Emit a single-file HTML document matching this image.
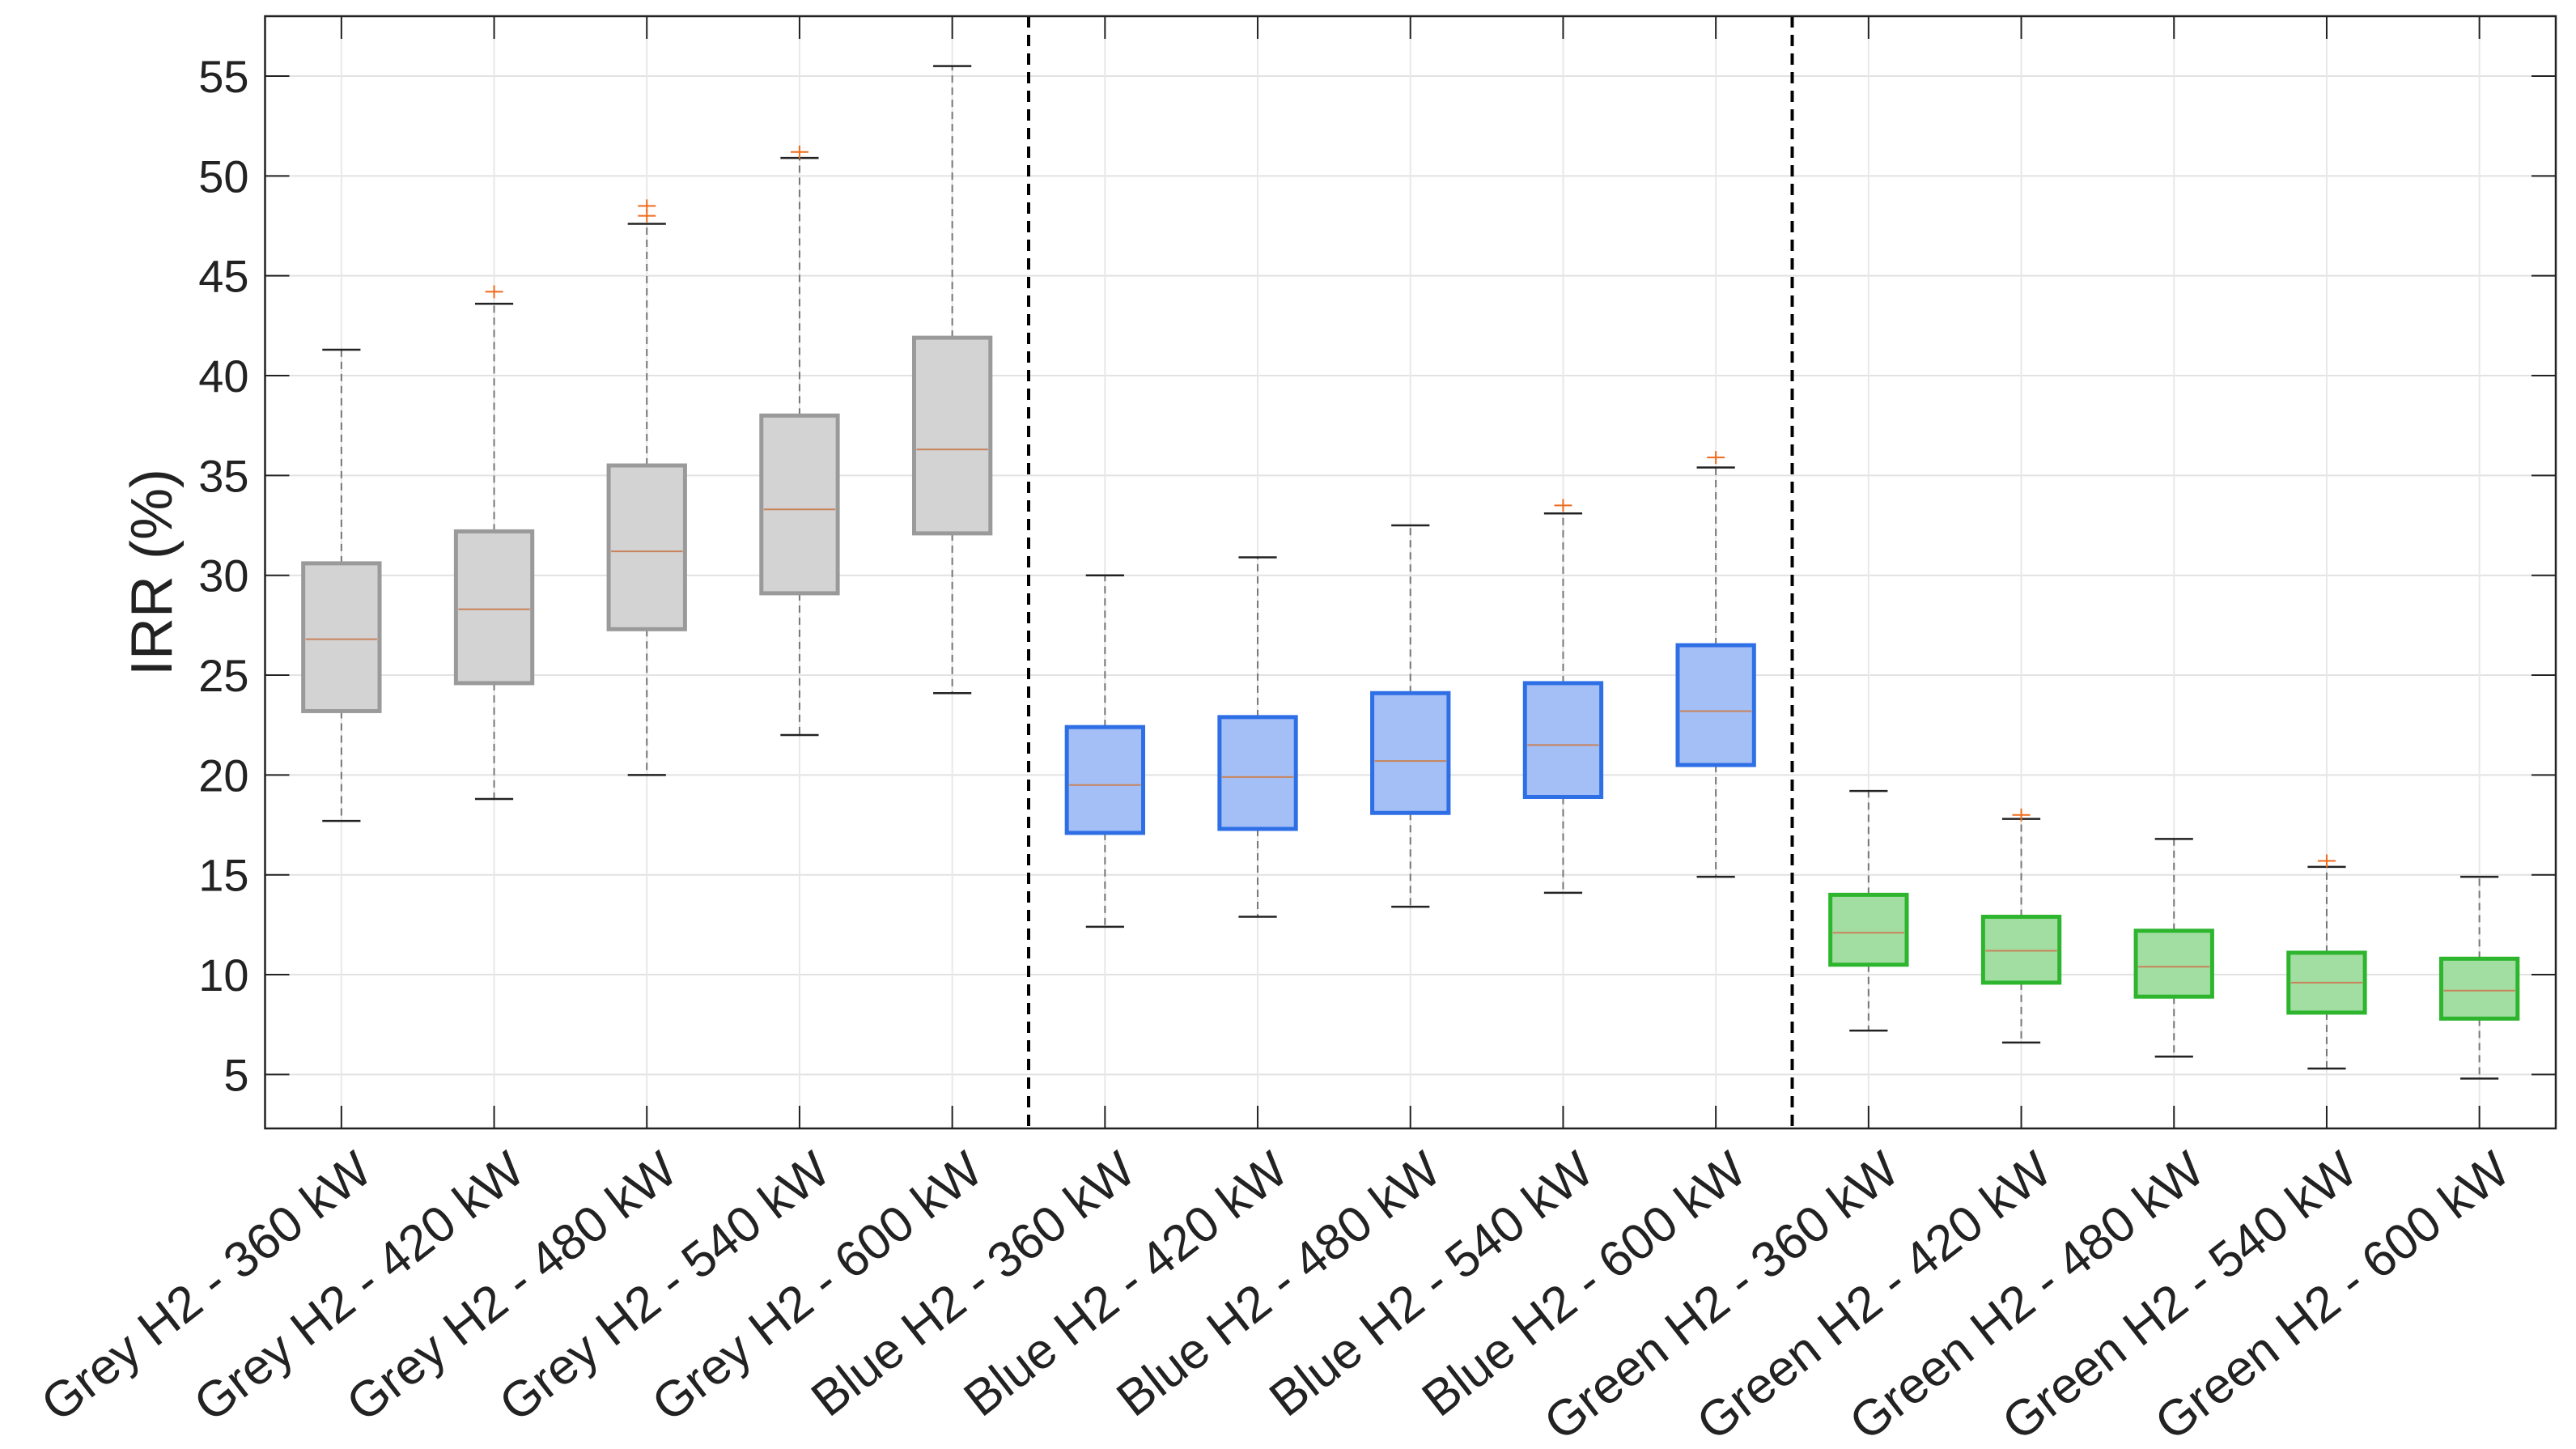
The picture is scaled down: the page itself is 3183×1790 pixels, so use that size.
<!DOCTYPE html>
<html><head><meta charset="utf-8"><style>
html,body{margin:0;padding:0;background:#fff;}
svg{display:block;font-family:"Liberation Sans",Arial,sans-serif;}
</style></head><body>
<svg id="chart" width="3183" height="1790" viewBox="0 0 3183 1790" xmlns="http://www.w3.org/2000/svg">
<rect x="0" y="0" width="3183" height="1790" fill="#fff"/>
<g id="grid"></g>
<g id="boxes"></g>
<g id="axes"></g>
<text transform="translate(212,707) rotate(-90)" text-anchor="middle" font-size="72" fill="#222">IRR (%)</text>
</svg>
<script>
const categories = ["Grey H2 - 360 kW","Grey H2 - 420 kW","Grey H2 - 480 kW","Grey H2 - 540 kW","Grey H2 - 600 kW","Blue H2 - 360 kW","Blue H2 - 420 kW","Blue H2 - 480 kW","Blue H2 - 540 kW","Blue H2 - 600 kW","Green H2 - 360 kW","Green H2 - 420 kW","Green H2 - 480 kW","Green H2 - 540 kW","Green H2 - 600 kW"];
const groups = ["grey","grey","grey","grey","grey","blue","blue","blue","blue","blue","green","green","green","green","green"];
const whiskerLow = [17.7,18.8,20.0,22.0,24.1,12.4,12.9,13.4,14.1,14.9,7.2,6.6,5.9,5.3,4.8];
const q1 = [23.2,24.6,27.3,29.1,32.1,17.1,17.3,18.1,18.9,20.5,10.5,9.6,8.9,8.1,7.8];
const median = [26.8,28.3,31.2,33.3,36.3,19.5,19.9,20.7,21.5,23.2,12.1,11.2,10.4,9.6,9.2];
const q3 = [30.6,32.2,35.5,38.0,41.9,22.4,22.9,24.1,24.6,26.5,14.0,12.9,12.2,11.1,10.8];
const whiskerHigh = [41.3,43.6,47.6,50.9,55.5,30.0,30.9,32.5,33.1,35.4,19.2,17.8,16.8,15.4,14.9];
const outliers = [[],[44.2],[48.0,48.5],[51.2],[],[],[],[],[33.5],[35.9],[],[18.0],[],[15.7],[]];
const yTicks = [5,10,15,20,25,30,35,40,45,50,55];
const separators = [5.5,10.5];

const NS="http://www.w3.org/2000/svg";
const L=327.5,R=3158,T=20,B=1394,YMIN=2.3,YMAX=58;
const xs=v=>L+(v-0.5)/15*(R-L);
const ys=v=>B-(v-YMIN)/(YMAX-YMIN)*(B-T);
const colors={grey:{f:"#d3d3d3",s:"#9a9a9a"},blue:{f:"#a3bff5",s:"#2f6fe6"},green:{f:"#a2dea2",s:"#2eb52e"}};
function mk(tag,attrs,parent){const e=document.createElementNS(NS,tag);for(const k in attrs)e.setAttribute(k,attrs[k]);parent.appendChild(e);return e;}
const grid=document.getElementById('grid'),boxes=document.getElementById('boxes'),axes=document.getElementById('axes');
yTicks.forEach(t=>{
  const g=mk('line',{x1:L,x2:R,y1:ys(t),y2:ys(t),stroke:"#e2e2e2","stroke-width":2},grid);
  
  
  const tl=mk('line',{x1:L,x2:L+30,y1:ys(t),y2:ys(t),stroke:"#222","stroke-width":2},axes);
  
  
  const tr=mk('line',{x1:R-30,x2:R,y1:ys(t),y2:ys(t),stroke:"#222","stroke-width":2},axes);
  
  
  const lab=mk('text',{x:L-20,y:ys(t)+20,"text-anchor":"end","font-size":56,fill:"#222"},axes);
  lab.textContent=t;
  
  
});
categories.forEach((c,i)=>{
  const x=xs(i+1);
  const g=mk('line',{x1:x,x2:x,y1:T,y2:B,stroke:"#e8e8e8","stroke-width":2},grid);
  
  
  const tb=mk('line',{x1:x,x2:x,y1:B-28,y2:B,stroke:"#222","stroke-width":2},axes);
  
  
  const tt=mk('line',{x1:x,x2:x,y1:T,y2:T+28,stroke:"#222","stroke-width":2},axes);
  
  
  const lab=mk('text',{transform:`translate(${x+14},${1418}) rotate(-38)`,"text-anchor":"end","font-size":62,fill:"#222",dy:"0.72em"},axes);
  lab.textContent=c;
  
  
  const col=colors[groups[i]];
  const g2=mk('g',{},boxes);
  
  
  const hw=0.25/15*(R-L), cw=0.125/15*(R-L);
  mk('line',{x1:x,x2:x,y1:ys(q3[i]),y2:ys(whiskerHigh[i]),stroke:"#777","stroke-width":2,"stroke-dasharray":"9,6"},g2);
  mk('line',{x1:x,x2:x,y1:ys(q1[i]),y2:ys(whiskerLow[i]),stroke:"#777","stroke-width":2,"stroke-dasharray":"9,6"},g2);
  mk('line',{x1:x-cw,x2:x+cw,y1:ys(whiskerHigh[i]),y2:ys(whiskerHigh[i]),stroke:"#222","stroke-width":2.5},g2);
  mk('line',{x1:x-cw,x2:x+cw,y1:ys(whiskerLow[i]),y2:ys(whiskerLow[i]),stroke:"#222","stroke-width":2.5},g2);
  mk('rect',{x:x-hw,y:ys(q3[i]),width:2*hw,height:ys(q1[i])-ys(q3[i]),fill:col.f,stroke:col.s,"stroke-width":5},g2);
  mk('line',{x1:x-hw+3,x2:x+hw-3,y1:ys(median[i]),y2:ys(median[i]),stroke:"#c8835a","stroke-width":2},g2);
  outliers[i].forEach(o=>{
    const p=mk('path',{d:`M${x-11},${ys(o)}h22M${x},${ys(o)-8}v16`,stroke:"#f06a1a","stroke-width":2,fill:"none"},g2);
    
    
  });
});
separators.forEach(s=>{
  const l=mk('line',{x1:xs(s),x2:xs(s),y1:T,y2:B,stroke:"#000","stroke-width":4,"stroke-dasharray":"14,9"},axes);
  
  
});
const fr=mk('rect',{x:L,y:T,width:R-L,height:B-T,fill:"none",stroke:"#222","stroke-width":2.5},axes);


</script>
</body></html>
